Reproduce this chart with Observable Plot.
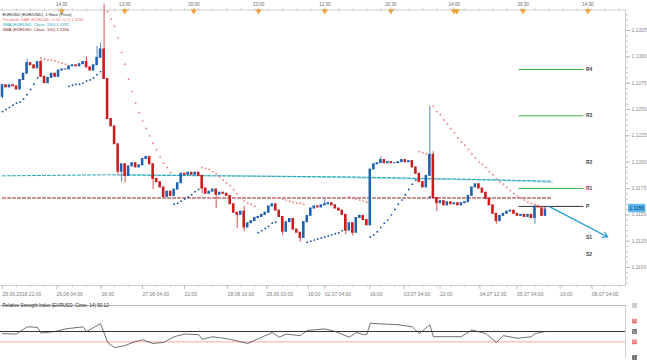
<!DOCTYPE html>
<html><head><meta charset="utf-8">
<script src="https://cdn.jsdelivr.net/npm/d3@7"></script>
<script src="https://cdn.jsdelivr.net/npm/@observablehq/plot@0.6"></script>
<style>
body{margin:0;background:#fff;}
#wrap{position:relative;width:647px;height:360px;overflow:hidden;background:#fff;}
#main{position:absolute;left:0;top:0;}
#rsi{position:absolute;left:0;top:298px;}
</style></head><body><div id="wrap"><div id="main"></div><div id="rsi"></div></div>
<script>
// ---- data (hourly EUR/USD candles) ----
const firstOpen = 1.1262;
const closes = [
1.1273,1.1271,1.1273,1.1272,1.1269,1.1278,1.1284,1.1294,1.1292,1.1289,
1.1295,1.1281,1.1275,1.1280,1.1284,1.1281,1.1287,1.1288,1.1288,1.1291,
1.1292,1.1291,1.1293,1.1295,1.1290,1.1287,1.1292,1.1299,1.1307,1.1279,
1.1241,1.1234,1.1217,1.1191,1.1198,1.1187,1.1196,1.1199,1.1195,1.1197,
1.1203,1.1205,1.1198,1.1184,1.1181,1.1176,1.1167,1.1172,1.1168,1.1174,
1.1180,1.1189,1.1188,1.1190,1.1188,1.1190,1.1187,1.1175,1.1170,1.1172,
1.1174,1.1169,1.1171,1.1170,1.1168,1.1160,1.1152,1.1150,1.1153,1.1138,
1.1142,1.1144,1.1147,1.1148,1.1150,1.1152,1.1158,1.1160,1.1154,1.1148,
1.1134,1.1143,1.1146,1.1136,1.1133,1.1128,1.1143,1.1149,1.1156,1.1158,
1.1157,1.1159,1.1160,1.1161,1.1159,1.1156,1.1154,1.1150,1.1135,1.1142,
1.1133,1.1147,1.1149,1.1145,1.1140,1.1193,1.1198,1.1199,1.1202,1.1199,
1.1200,1.1199,1.1199,1.1200,1.1202,1.1200,1.1201,1.1195,1.1189,1.1181,
1.1176,1.1187,1.1207,1.1166,1.1161,1.1163,1.1159,1.1162,1.1160,1.1161,
1.1159,1.1161,1.1162,1.1168,1.1176,1.1179,1.1175,1.1171,1.1165,1.1159,
1.1151,1.1144,1.1149,1.1151,1.1153,1.1154,1.1151,1.1149,1.1150,1.1148,
1.1150,1.1147,1.1158,1.1157,1.1149,1.1156];
const highs = [[0,1.1274],[7,1.1298],[11,1.1297],[24,1.1300],[27,1.1310],[28,1.1313],[29,1.1350],[69,1.1158],[92,1.1165],[108,1.1205],[122,1.1253],[123,1.1210]];
const lows = [[0,1.1260],[33,1.1188],[34,1.1181],[35,1.1180],[43,1.1174],[57,1.1170],[61,1.1156],[67,1.1137],[69,1.1134],[80,1.1130],[85,1.1124],[98,1.1131],[100,1.1130],[124,1.1153],[141,1.1141],[152,1.1141]];
const sar = [
1.1248,1.1250,1.1252,1.1254,1.1256,1.1257,1.1260,1.1264,1.1269,1.1274,
1.1280,1.1299,1.1298,1.1297,1.1297,1.1296,1.1295,1.1294,1.1293,1.1272,
1.1273,1.1274,1.1274,1.1275,1.1277,1.1278,1.1280,1.1283,1.1286,null,
1.1343,1.1336,1.1329,1.1318,1.1304,1.1293,1.1279,1.1267,1.1256,1.1247,
1.1239,1.1232,1.1225,1.1218,1.1212,1.1205,1.1199,1.1195,1.1190,1.1160,
1.1161,1.1163,1.1165,1.1167,1.1169,1.1172,1.1174,1.1195,1.1194,1.1193,
1.1191,1.1189,1.1186,1.1183,1.1180,1.1178,1.1174,1.1170,1.1166,1.1163,
1.1161,1.1160,1.1158,1.1133,1.1135,1.1137,1.1139,1.1142,1.1143,1.1166,
1.1165,1.1164,1.1163,1.1162,1.1161,1.1161,1.1160,1.1124,1.1125,1.1126,
1.1127,1.1128,1.1129,1.1130,1.1131,1.1132,1.1133,1.1135,null,1.1167,
1.1166,1.1165,1.1164,1.1163,1.1162,1.1129,1.1131,1.1134,1.1138,1.1142,
1.1145,1.1150,1.1155,1.1160,1.1164,1.1169,1.1174,1.1179,1.1183,1.1210,
1.1209,1.1208,1.1167,1.1253,1.1248,1.1245,1.1240,1.1236,1.1232,1.1228,
1.1223,1.1219,1.1216,1.1212,1.1208,1.1204,1.1200,1.1198,1.1195,1.1191,
1.1188,1.1184,1.1181,1.1179,1.1176,1.1173,1.1170,1.1168,1.1166,1.1164,
1.1162,1.1161,1.1160,1.1159,1.1157,1.1156];
// moving averages (knots)
const smaSlowIdx = [0, 30, 60, 100, 157];
const smaSlowVal = [1.1187, 1.1188, 1.1187, 1.1186, 1.1182];
const smaPaleIdx = [35, 70, 105, 140, 157];
const smaPaleVal = [1.1188, 1.1187, 1.1185, 1.1183, 1.1181];
const smaRedIdx = [0, 157];
const smaRedVal = [1.1166, 1.1166];
// pivots
const pivotNames = ["R4","R3","R2","R1","P","S1","S2"];
const pivotVals = [1.1288, 1.1244, 1.1200, 1.1175, 1.1158, 1.1129, 1.1112];
const pivotColors = ["#3cb44a","#3cb44a",null,"#3cb44a","#333333",null,null];
const pivotFrom = 147.5, pivotTo = 166;
// forecast arrow
const arrowFrom = [156, 1.1158], arrowTo = [172.8, 1.1129];
const lastPrice = 1.1156;
// RSI
const rsiIdx = [0,4,7,10,11,15,18,23,24,28,30,32,35,38,40,43,46,49,52,56,57,60,65,70,74,77,79,81,85,87,92,95,99,101,103,104,105,107,113,117,119,122,123,126,131,134,138,141,143,147,151,152,155];
const rsiVal = [46,45,59,58,47,50,55,59,50,65,29,19,23,31,34,27,29,40,45,44,35,40,35,27,39,48,39,45,42,52,55,50,39,48,44,44,66,65,63,59,46,63,40,40,40,53,46,29,42,37,40,46,50];
const rsiLevels = [100, 70, 50, 30, 0];
const rsiLevelColors = ["#b3b3b3","#e06262","#555555","#e06262","#555555"];
// axes
const yTicks = [1.1100,1.1125,1.1150,1.1175,1.1200,1.1225,1.1250,1.1275,1.1300,1.1325];
const yLabels = ["1.1100","1.1125","1.1150","1.1175","1.1200","1.1225","1.1250","1.1275","1.1300","1.1325"];
const bottomIdx = [-0.3,15.1,28,39.7,51.7,64,75.1,86.9,91.7,104.6,114.3,124.6,136,146.6,158.9,168];
const bottomLabels = ["25.06.2018 22:00","26.06 04:00","16:00","27.06 04:00","22:00","28.06 10:00","29.06 03:00","16:00","02.07 04:00","16:00","03.07 04:00","22:00","04.07 12:00","05.07 04:00","16:00","06.07 04:00"];
const topIdx = [16.9,34.9,54.6,73.1,92,110.9,128.9,148.6,167.1];
const topLabels = ["14:30","13:00","20:00","23:00","12:30","20:30","14:00","20:30","14:30"];
const eventIdx = [16.9,34.9,54.6,73.1,92,110.9,128.9,129.7,148.6,167.1];
const legendLines = [
  ["EURUSD (EUR/USD), 1 Hour (Price)", "#222"],
  ["Parabolic SAR (EURUSD, 0.02, 0.2) 1.1156", "#f07272"],
  ["SMA (EURUSD, Close, 200) 1.1182", "#1fa5b6"],
  ["SMA (EURUSD, Close, 100) 1.1166", "#8e1b1b"]
];
const rsiTitle = "Relative Strength Index (EURUSD, Close, 14) 50.12";

// ---- build ----
const BLUE = "#1f62b2", RED = "#cc1b1b";
const hiMap = new Map(highs), loMap = new Map(lows);
const candles = closes.map((c, i) => {
  const o = i === 0 ? firstOpen : closes[i - 1];
  return {i, o, c, h: hiMap.get(i) ?? Math.max(o, c), l: loMap.get(i) ?? Math.min(o, c), up: c >= o};
});
const sarPts = sar.map((v, i) => ({i, v, above: v >= closes[i]})).filter(d => d.v != null);
const line = (idx, val) => idx.map((x, k) => ({x, y: val[k]}));
const pivots = pivotNames.map((n, k) => ({n, v: pivotVals[k], c: pivotColors[k]}));
const xDomain = [-4/7, 1245/7];
const font = "Liberation Sans, Arial, sans-serif";

const mainMarks = [
  Plot.frame({anchor: "top", stroke: "#cfcfcf"}),
  Plot.frame({anchor: "bottom", stroke: "#cfcfcf"}),
  Plot.frame({anchor: "right", stroke: "#cfcfcf"}),
  Plot.axisY({anchor: "right", ticks: d3.range(1.1085, 1.1342, 0.0005), tickFormat: () => "", tickSize: 2, stroke: "#c4c4c4", label: null}),
  Plot.axisY({anchor: "right", ticks: yTicks, tickFormat: d => yLabels[yTicks.indexOf(d)], tickSize: 4, tickPadding: 2, fontSize: 5, fill: "#8a8a8a", stroke: "#bdbdbd", label: null}),
  Plot.axisX({anchor: "bottom", ticks: d3.range(0, 178, 4), tickFormat: () => "", tickSize: 2, stroke: "#c4c4c4", label: null}),
  Plot.axisX({anchor: "bottom", ticks: bottomIdx, tickFormat: d => bottomLabels[bottomIdx.indexOf(d)], tickSize: 4, tickPadding: 3, textAnchor: "start", dx: 1, fontSize: 5, fill: "#7a7a7a", stroke: "#bdbdbd", label: null}),
  Plot.axisX({anchor: "top", ticks: d3.range(0, 178, 4), tickFormat: () => "", tickSize: 2, stroke: "#c4c4c4", label: null}),
  Plot.axisX({anchor: "top", ticks: topIdx, tickFormat: d => topLabels[topIdx.indexOf(d)], tickSize: 3, tickPadding: 1, fontSize: 4.5, fill: "#6a6a6a", stroke: "#bdbdbd", label: null}),
  Plot.dot(eventIdx, {x: d => d, frameAnchor: "top", symbol: "triangle", rotate: 180, r: 2.3, fill: "#eea43c", dy: 1}),
  Plot.line(line(smaPaleIdx, smaPaleVal), {x: "x", y: "y", stroke: "#a9dde7", strokeWidth: 1.4}),
  Plot.line(line(smaSlowIdx, smaSlowVal), {x: "x", y: "y", stroke: "#1fa5b6", strokeWidth: 1, strokeDasharray: "3,2"}),
  Plot.line(line(smaRedIdx, smaRedVal), {x: "x", y: "y", stroke: "#8e1b1b", strokeWidth: 1, strokeDasharray: "3,2"}),
  Plot.ruleY(pivots.filter(d => d.c), {y: "v", x1: pivotFrom, x2: pivotTo, stroke: d => d.c, strokeWidth: 1}),
  Plot.text(pivots, {x: pivotTo, y: "v", text: "n", textAnchor: "start", dx: 2, fontSize: 5, fontWeight: "bold", fill: "#444"}),
  Plot.ruleX(candles, {x: "i", y1: "l", y2: "h", stroke: d => d.up ? BLUE : RED, strokeWidth: 1, strokeOpacity: 0.75}),
  Plot.rect(candles, {x1: d => d.i - 0.36, x2: d => d.i + 0.36, y1: "o", y2: "c", fill: d => d.up ? BLUE : RED, insetTop: -0.5, insetBottom: -0.5}),
  Plot.dot(sarPts, {x: "i", y: "v", r: 0.95, fill: d => d.above ? "#f08585" : "#1f5aa6", stroke: null}),
  Plot.arrow([{}], {x1: arrowFrom[0], y1: arrowFrom[1], x2: arrowTo[0], y2: arrowTo[1], stroke: "#1b98d4", strokeWidth: 1.2, headLength: 7}),
  Plot.rect([lastPrice], {x1: xDomain[1] + 0.86, x2: xDomain[1] + 5.8, y1: d => d - 0.0004, y2: d => d + 0.0004, fill: "#5ab8ef"}),
  Plot.text([lastPrice], {x: xDomain[1] + 1.1, y: d => d, text: d => d.toFixed(4), textAnchor: "start", fontSize: 5, fill: "#0d3a66"}),
  ...legendLines.map((l, k) => Plot.text([l[0]], {frameAnchor: "top-left", text: d => d, dx: 2, dy: 3.5 + k * 4.7, fontSize: 4.2, fill: l[1], textAnchor: "start"}))
];

const mainChart = Plot.plot({
  width: 647, height: 298, marginLeft: 0, marginRight: 22, marginTop: 9.5, marginBottom: 13,
  style: {fontFamily: font, background: "#fff", overflow: "visible"},
  x: {domain: xDomain},
  y: {domain: [1.1100, 1.1325], range: [267, 30]},
  marks: mainMarks
});
document.getElementById("main").append(mainChart);

const rsiChart = Plot.plot({
  width: 647, height: 62, marginLeft: 0, marginRight: 22, marginTop: 7, marginBottom: 3,
  style: {fontFamily: font, background: "#fff", overflow: "visible"},
  x: {domain: xDomain, axis: null},
  y: {domain: [0, 100], range: [59, 7], axis: null},
  marks: [
    Plot.frame({anchor: "right", stroke: "#cfcfcf"}),
    Plot.ruleY([100], {stroke: "#b9b9b9"}),
    Plot.ruleY([50], {stroke: "#333"}),
    Plot.ruleY([30], {stroke: "#f3a6a6"}),
    Plot.line(rsiIdx.map((x, k) => ({x, y: rsiVal[k]})), {x: "x", y: "y", stroke: "#333", strokeWidth: 0.7}),
    Plot.dot(rsiLevels, {x: xDomain[1], y: d => d, dx: 9, symbol: "square", r: 2.6, fill: (d, k) => rsiLevelColors[rsiLevels.indexOf(d)]}),
    Plot.text(rsiLevels, {x: xDomain[1], y: d => d, dx: 9, text: d => String(d), fontSize: 3.2, fill: "#fff"}),
    Plot.text([rsiTitle], {frameAnchor: "top-left", text: d => d, dx: 2, dy: -2, fontSize: 4.6, fill: "#222", textAnchor: "start"})
  ]
});
document.getElementById("rsi").append(rsiChart);
</script>
</body></html>
